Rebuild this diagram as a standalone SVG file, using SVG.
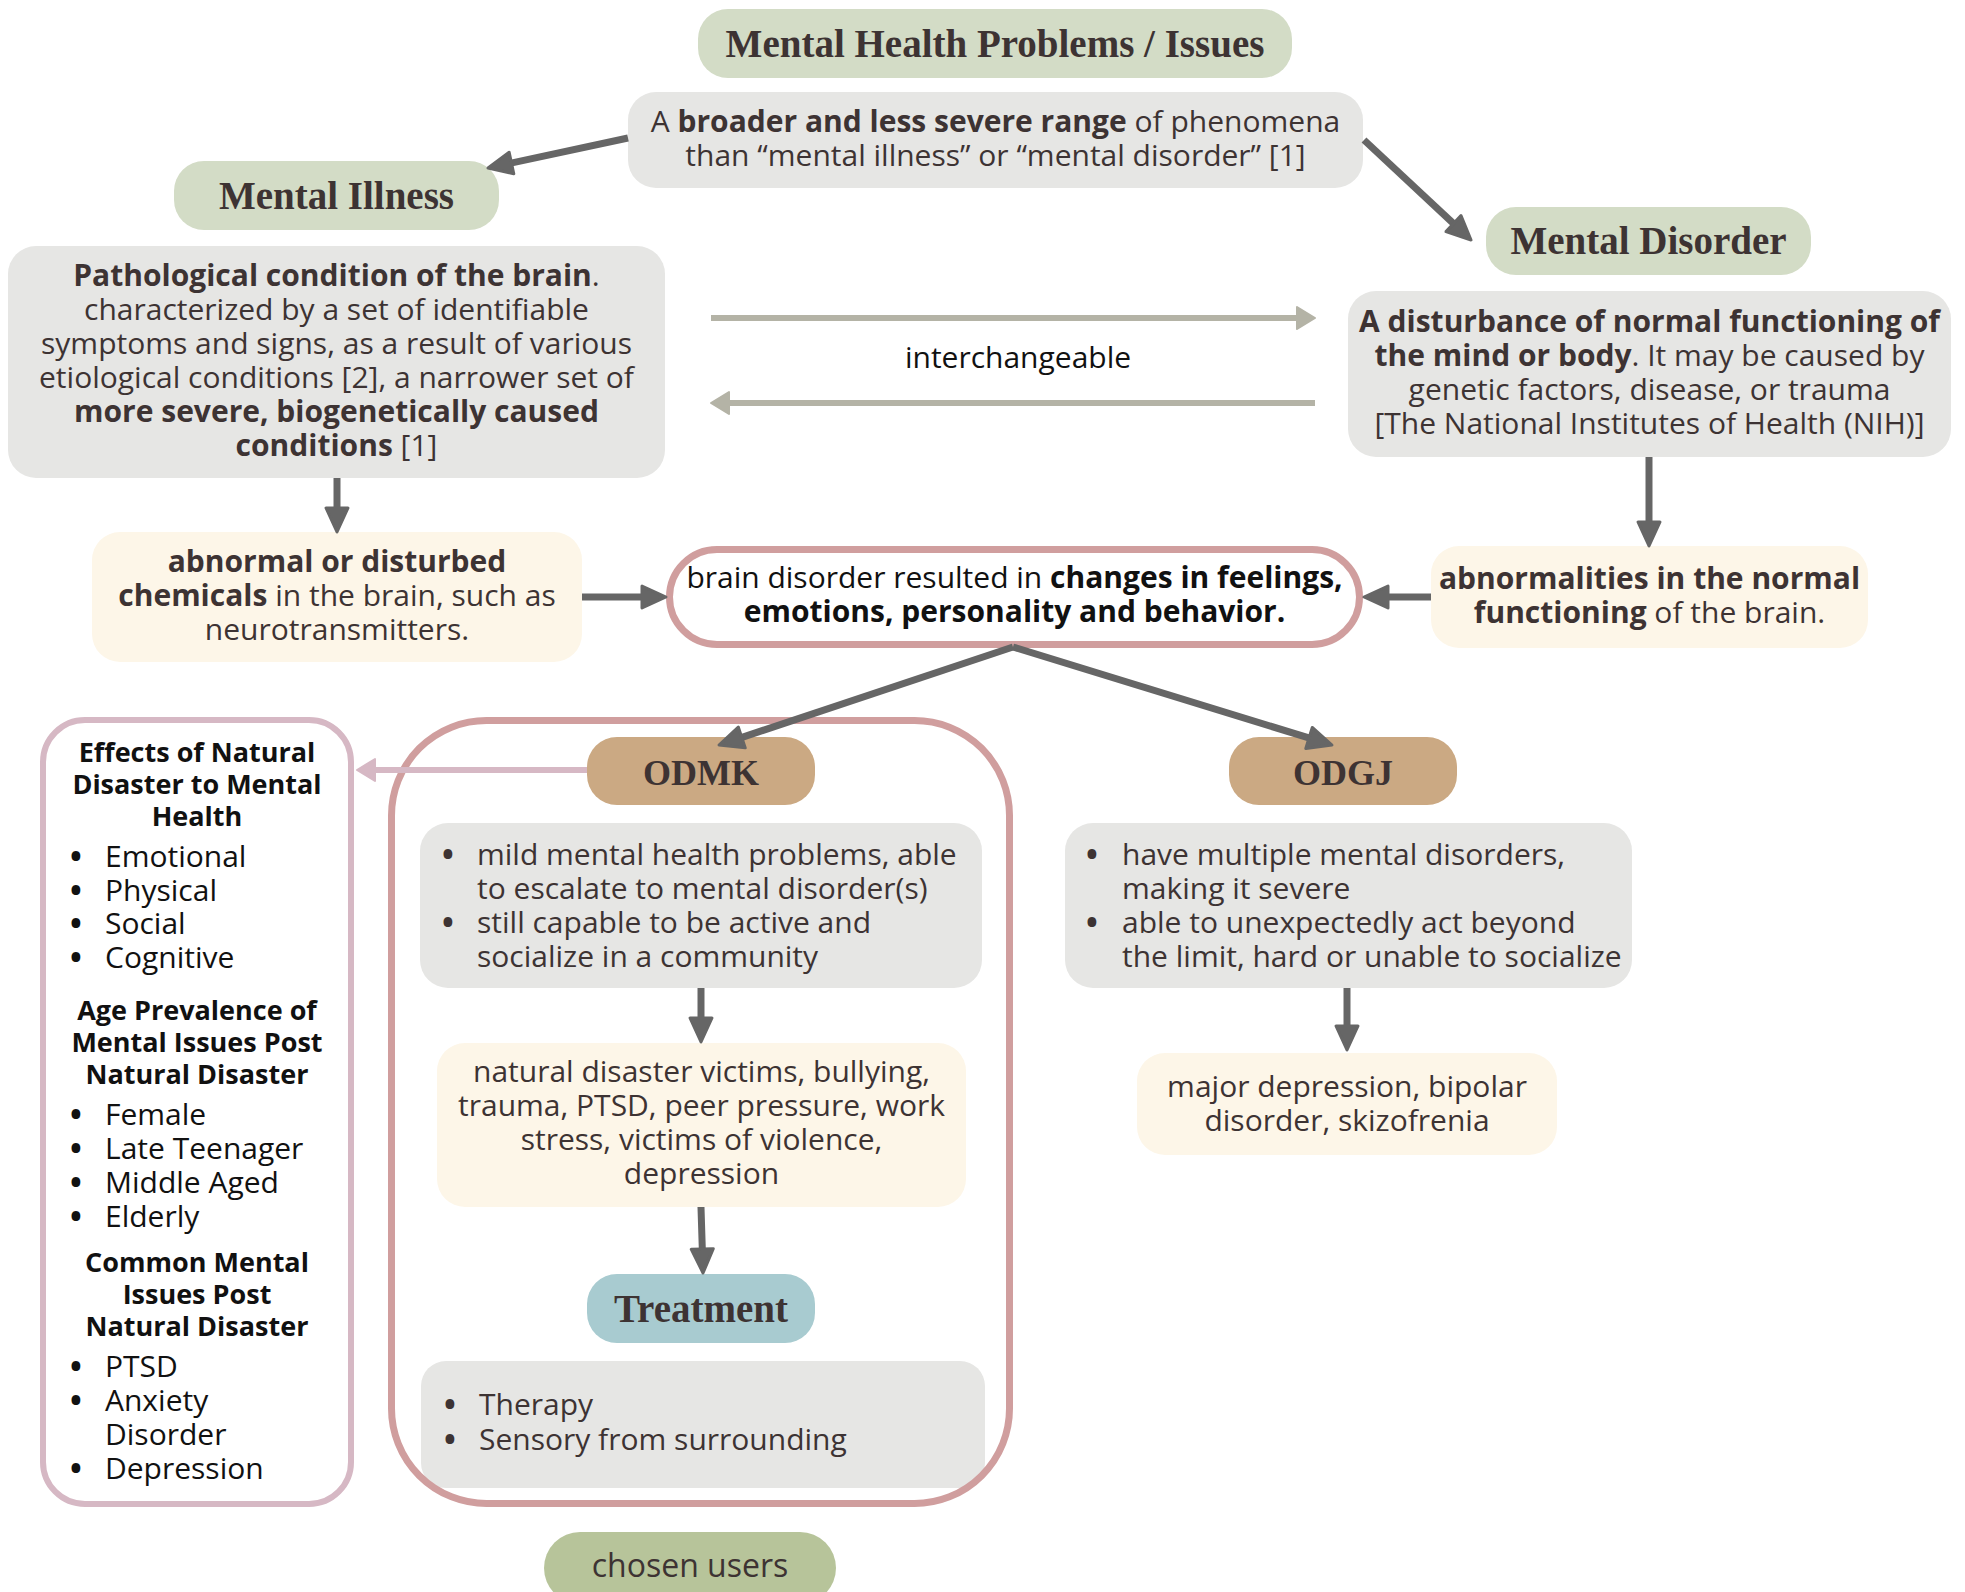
<svg xmlns="http://www.w3.org/2000/svg" width="1965" height="1592" viewBox="0 0 1965 1592">
<style>
.t{font-family:'Open Sans','Liberation Sans',sans-serif;font-size:30px;fill:#3d3333}
.c{text-anchor:middle}
.b{font-weight:700}
.k{fill:#111}
.bl{font-family:'Open Sans','Liberation Sans',sans-serif;font-size:42px;text-anchor:middle}
.h{font-family:'Liberation Serif',serif;font-weight:700;font-size:39px;fill:#3d3333;text-anchor:middle}
.s{font-family:'Open Sans','Liberation Sans',sans-serif;font-size:27px;font-weight:700;fill:#111;text-anchor:middle}
.green{fill:#d3dcc6}
.gray{fill:#e6e6e4}
.cream{fill:#fdf6e8}
.tan{fill:#cba983}
.teal{fill:#a8cbd0}
.olive{fill:#b7c49a}
.ga{fill:none;stroke:#666;stroke-width:7;marker-end:url(#ah)}
.ia{fill:none;stroke:#b4b3a6;stroke-width:6;marker-end:url(#ih)}
.ma{fill:none;stroke:#d6b8c4;stroke-width:6;marker-end:url(#mh)}
</style>
<defs>
<marker id="ah" markerUnits="userSpaceOnUse" viewBox="-3 -3 30 28" markerWidth="30" markerHeight="28" refX="10" refY="11" orient="auto">
<path d="M0,0 L24,11 L0,22 z" fill="#666" stroke="#666" stroke-width="3" stroke-linejoin="round"/>
</marker>
<marker id="ih" markerUnits="userSpaceOnUse" viewBox="-3 -3 24 28" markerWidth="24" markerHeight="28" refX="6" refY="11" orient="auto">
<path d="M0,0 L18,11 L0,22 z" fill="#b4b3a6" stroke="#b4b3a6" stroke-width="2" stroke-linejoin="round"/>
</marker>
<marker id="mh" markerUnits="userSpaceOnUse" viewBox="-3 -3 24 28" markerWidth="24" markerHeight="28" refX="6" refY="11" orient="auto">
<path d="M0,0 L18,11 L0,22 z" fill="#d6b8c4" stroke="#d6b8c4" stroke-width="2" stroke-linejoin="round"/>
</marker>
</defs>
<rect width="1965" height="1592" fill="#fff"/>

<g id="mental-health-problems">
<rect class="green" x="698" y="9" width="594" height="69" rx="30"/>
<text class="h" x="995" y="57">Mental Health Problems / Issues</text>
</g>
<g id="broader-range">
<rect class="gray" x="628" y="92" width="735" height="96" rx="28"/>
<text class="t c" x="995.5" y="132">A <tspan class="b">broader and less severe range</tspan> of phenomena</text>
<text class="t c" x="995.5" y="166">than “mental illness” or “mental disorder” [1]</text>
</g>
<g id="mental-illness">
<rect class="green" x="174" y="161" width="325" height="69" rx="30"/>
<text class="h" x="336.5" y="209">Mental Illness</text>
</g>
<g id="mental-disorder">
<rect class="green" x="1486" y="207" width="325" height="68" rx="30"/>
<text class="h" x="1648.5" y="254">Mental Disorder</text>
</g>
<g id="pathological">
<rect class="gray" x="8" y="246" width="657" height="232" rx="28"/>
<text class="t c" x="336.5" y="286"><tspan class="b">Pathological condition of the brain</tspan>.</text>
<text class="t c" x="336.5" y="320">characterized by a set of identifiable</text>
<text class="t c" x="336.5" y="354">symptoms and signs, as a result of various</text>
<text class="t c" x="336.5" y="388">etiological conditions [2], a narrower set of</text>
<text class="t c b" x="336.5" y="422">more severe, biogenetically caused</text>
<text class="t c" x="336.5" y="456"><tspan class="b">conditions</tspan> [1]</text>
</g>
<g id="disturbance">
<rect class="gray" x="1348" y="291" width="603" height="166" rx="28"/>
<text class="t c b" x="1649.5" y="332">A disturbance of normal functioning of</text>
<text class="t c" x="1649.5" y="366"><tspan class="b">the mind or body</tspan>. It may be caused by</text>
<text class="t c" x="1649.5" y="400">genetic factors, disease, or trauma</text>
<text class="t c" x="1649.5" y="434">[The National Institutes of Health (NIH)]</text>
</g>
<g id="interchangeable-label">
<text class="t c k" x="1018" y="368">interchangeable</text>
</g>
<g id="abnormal-chemicals">
<rect class="cream" x="92" y="532" width="490" height="130" rx="28"/>
<text class="t c b" x="337" y="572">abnormal or disturbed</text>
<text class="t c" x="337" y="606"><tspan class="b">chemicals</tspan> in the brain, such as</text>
<text class="t c" x="337" y="640">neurotransmitters.</text>
</g>
<g id="brain-disorder">
<rect x="669.5" y="549.5" width="690" height="95" rx="47.5" fill="#fff" stroke="#d09e9e" stroke-width="7"/>
<text class="t c k" x="1014.5" y="588">brain disorder resulted in <tspan class="b">changes in feelings,</tspan></text>
<text class="t c k b" x="1014.5" y="622">emotions, personality and behavior.</text>
</g>
<g id="abnormalities">
<rect class="cream" x="1431" y="546" width="437" height="102" rx="28"/>
<text class="t c b" x="1649.5" y="589">abnormalities in the normal</text>
<text class="t c" x="1649.5" y="623"><tspan class="b">functioning</tspan> of the brain.</text>
</g>
<g id="effects-box">
<rect x="43" y="720" width="308" height="784" rx="42" fill="#fff" stroke="#d6b8c4" stroke-width="6"/>
<text class="s" x="197" y="762">Effects of Natural</text>
<text class="s" x="197" y="794">Disaster to Mental</text>
<text class="s" x="197" y="826">Health</text>
<g class="t k">
<text class="bl" x="76" y="871">•</text><text x="105" y="867">Emotional</text>
<text class="bl" x="76" y="905">•</text><text x="105" y="901">Physical</text>
<text class="bl" x="76" y="938">•</text><text x="105" y="934">Social</text>
<text class="bl" x="76" y="972">•</text><text x="105" y="968">Cognitive</text>
</g>
<text class="s" x="197" y="1020">Age Prevalence of</text>
<text class="s" x="197" y="1052">Mental Issues Post</text>
<text class="s" x="197" y="1084">Natural Disaster</text>
<g class="t k">
<text class="bl" x="76" y="1129">•</text><text x="105" y="1125">Female</text>
<text class="bl" x="76" y="1163">•</text><text x="105" y="1159">Late Teenager</text>
<text class="bl" x="76" y="1197">•</text><text x="105" y="1193">Middle Aged</text>
<text class="bl" x="76" y="1231">•</text><text x="105" y="1227">Elderly</text>
</g>
<text class="s" x="197" y="1272">Common Mental</text>
<text class="s" x="197" y="1304">Issues Post</text>
<text class="s" x="197" y="1336">Natural Disaster</text>
<g class="t k">
<text class="bl" x="76" y="1381">•</text><text x="105" y="1377">PTSD</text>
<text class="bl" x="76" y="1415">•</text><text x="105" y="1411">Anxiety</text>
<text x="105" y="1445">Disorder</text>
<text class="bl" x="76" y="1483">•</text><text x="105" y="1479">Depression</text>
</g>
</g>
<g id="odmk">
<rect class="tan" x="587" y="737" width="228" height="68" rx="30"/>
<text class="h" x="701" y="785" style="font-size:36px">ODMK</text>
</g>
<g id="odmk-list">
<rect class="gray" x="420" y="823" width="562" height="165" rx="28"/>
<text class="t bl" x="448" y="869">•</text>
<text class="t" x="477" y="865">mild mental health problems, able</text>
<text class="t" x="477" y="899">to escalate to mental disorder(s)</text>
<text class="t bl" x="448" y="937">•</text>
<text class="t" x="477" y="933">still capable to be active and</text>
<text class="t" x="477" y="967">socialize in a community</text>
</g>
<g id="odmk-causes">
<rect class="cream" x="437" y="1043" width="529" height="164" rx="28"/>
<text class="t c" x="701.5" y="1082">natural disaster victims, bullying,</text>
<text class="t c" x="701.5" y="1116">trauma, PTSD, peer pressure, work</text>
<text class="t c" x="701.5" y="1150">stress, victims of violence,</text>
<text class="t c" x="701.5" y="1184">depression</text>
</g>
<g id="treatment">
<rect class="teal" x="587" y="1274" width="228" height="69" rx="30"/>
<text class="h" x="701" y="1322">Treatment</text>
</g>
<g id="treatment-list">
<rect class="gray" x="421" y="1361" width="564" height="127" rx="25"/>
<text class="t bl" x="450" y="1419">•</text>
<text class="t" x="479" y="1415">Therapy</text>
<text class="t bl" x="450" y="1454">•</text>
<text class="t" x="479" y="1450">Sensory from surrounding</text>
</g>
<g id="odmk-container">
<rect x="391.5" y="720.5" width="618" height="783" rx="95" fill="none" stroke="#d09e9e" stroke-width="7"/>
</g>
<g id="odgj">
<rect class="tan" x="1229" y="737" width="228" height="68" rx="30"/>
<text class="h" x="1343" y="785" style="font-size:36px">ODGJ</text>
</g>
<g id="odgj-list">
<rect class="gray" x="1065" y="823" width="567" height="165" rx="28"/>
<text class="t bl" x="1092" y="869">•</text>
<text class="t" x="1122" y="865">have multiple mental disorders,</text>
<text class="t" x="1122" y="899">making it severe</text>
<text class="t bl" x="1092" y="937">•</text>
<text class="t" x="1122" y="933">able to unexpectedly act beyond</text>
<text class="t" x="1122" y="967">the limit, hard or unable to socialize</text>
</g>
<g id="odgj-examples">
<rect class="cream" x="1137" y="1053" width="420" height="102" rx="28"/>
<text class="t c" x="1347" y="1097">major depression, bipolar</text>
<text class="t c" x="1347" y="1131">disorder, skizofrenia</text>
</g>
<g id="chosen-users">
<rect class="olive" x="544" y="1532" width="292" height="72" rx="36"/>
<text class="t c" x="690" y="1577" style="font-size:32px">chosen users</text>
</g>

<g id="connectors">
<path class="ga" d="M628,138 L501.7,165.1"/>
<path class="ga" d="M1364,140 L1460.8,230.4"/>
<path class="ia" d="M711,318 L1303,318"/>
<path class="ia" d="M1315,403 L723,403"/>
<path class="ga" d="M337,478 L337,518"/>
<path class="ga" d="M582,597 L652,597"/>
<path class="ga" d="M1649,457 L1649,532"/>
<path class="ga" d="M1431,597 L1378,597"/>
<path class="ga" d="M1013,647 L732.3,740.6"/>
<path class="ga" d="M1013,647 L1318.6,740.9"/>
<path class="ma" d="M587,770 L369,770"/>
<path class="ga" d="M701,988 L701,1028"/>
<path class="ga" d="M701,1207 L702.6,1259"/>
<path class="ga" d="M1347,988 L1347,1036"/>
</g>
</svg>
